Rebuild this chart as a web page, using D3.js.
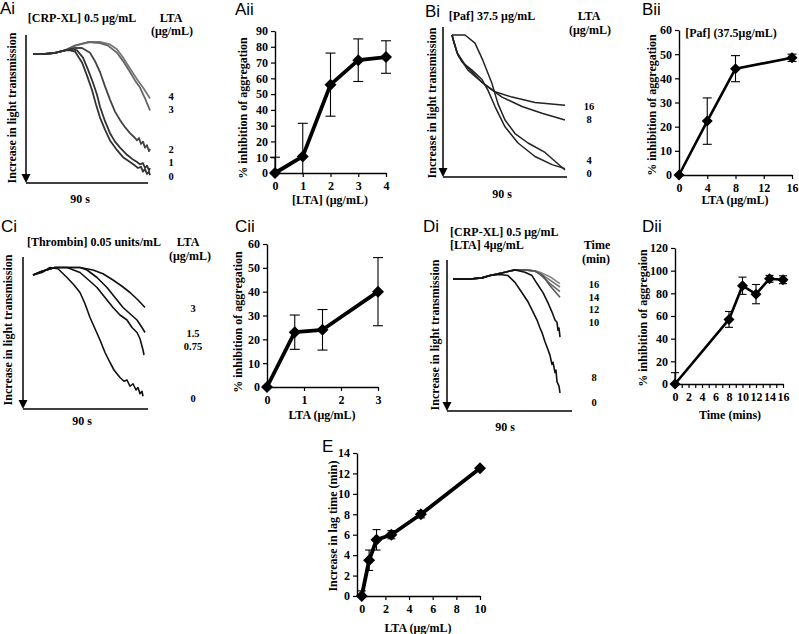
<!DOCTYPE html>
<html><head><meta charset="utf-8">
<script src="https://cdn.jsdelivr.net/npm/d3@7"></script>
<style>body{margin:0;background:#fff} svg{display:block}</style>
</head><body><svg id="c" width="799" height="634"></svg>
<script>
// ---------------- DATA ----------------
// Ai: aggregation traces, [time (s), transmission change (a.u.)], per LTA dose
const aiDoseLabels = ["4", "3", "2", "1", "0"];
const aiLta4 = [[0,0],[12,0],[22,-1],[32,-3],[42,-7],[57,-10],[67,-10],[77,-8],[84,-4],[90,3],[97,12],[104,21],[110,28],[117,37]];
const aiLta3 = [[0,0],[12,0],[22,-1],[32,-3],[42,-7],[55,-10],[67,-9],[75,-7],[84,-1],[91,7],[97,15],[102,22],[107,28],[112,37],[117,47]];
const aiLta2 = [[0,0],[12,0],[22,-1],[32,-3],[42,-5],[49,-5],[57,-1],[62,6],[67,15],[72,27],[77,38],[82,48],[87,55],[92,61],[97,66],[102,70],[104,72],[106,70],[108,75],[110,73],[112,78],[114,76],[116,81],[117,79]];
const aiLta1 = [[0,0],[12,0],[22,-1],[32,-3],[39,-4],[44,-3],[50,3],[55,13],[60,24],[64,34],[67,44],[72,56],[77,66],[82,73],[87,78],[94,84],[100,88],[104,90],[107,92],[110,91],[112,95],[114,93],[116,97],[117,95]];
const aiLta0 = [[0,0],[12,0],[22,-1],[32,-3],[37,-3],[42,-2],[49,7],[54,18],[59,30],[63,42],[67,53],[72,63],[77,72],[83,79],[90,86],[97,90],[102,93],[105,95],[108,94],[110,98],[112,96],[114,100],[116,98],[117,101]];

// Bi
const biDoseLabels = ["16", "8", "4", "0"];
const biLta16 = [[0,0],[2,5],[5,13],[13,22],[30,35],[43,42],[60,46],[83,50],[113,52]];
const biLta8 = [[0,0],[1,3],[6,15],[16,26],[33,37],[50,46],[70,53],[90,58],[113,63]];
const biLta4 = [[0,0],[2,6],[5,13],[10,20],[20,26],[30,33],[36,41],[43,53],[53,68],[66,80],[83,90],[100,96],[113,99]];
const biLta0 = [[0,0],[13,0],[23,6],[31,19],[40,36],[46,51],[53,63],[63,73],[76,80],[93,87],[113,100]];

// Ci
const ciDoseLabels = ["3", "1.5", "0.75", "0"];
const ciLta3 = [[0,0],[9,-3],[22,-6],[34,-6],[47,-6],[60,-4],[70,-1],[80,4],[89,9],[97,14],[105,20],[112,26]];
const ciLta15 = [[0,0],[9,-3],[22,-6],[34,-6],[47,-6],[54,-4],[64,2],[74,10],[82,18],[90,26],[97,31],[104,36],[109,42],[112,46]];
const ciLta075 = [[0,0],[9,-3],[22,-6],[34,-6],[47,-2],[57,5],[64,10],[72,18],[80,26],[87,32],[94,36],[99,42],[104,46],[107,51],[108,54],[110,60],[111,64]];
const ciLta0 = [[0,0],[9,-2],[17,-6],[25,-5],[34,2],[41,8],[47,14],[52,23],[57,34],[62,43],[67,52],[72,62],[77,70],[81,76],[84,79],[87,82],[91,85],[94,84],[97,89],[100,87],[103,92],[105,90],[107,95],[109,93],[110,97]];

// Di
const diTimeLabels = ["16", "14", "12", "10", "8", "0"];
const diTime16 = [[0,0],[17,0],[29,-1],[37,-3],[52,-6],[62,-8],[72,-8],[82,-7],[87,-6],[97,-2],[107,4]];
const diTime14 = [[0,0],[17,0],[29,-1],[37,-3],[52,-6],[62,-8],[72,-8],[82,-7],[87,-5],[97,1],[107,7]];
const diTime12 = [[0,0],[17,0],[29,-1],[37,-3],[52,-6],[62,-8],[72,-8],[82,-7],[87,-4],[97,4],[107,11]];
const diTime10 = [[0,0],[17,0],[29,-1],[37,-3],[52,-6],[62,-8],[72,-8],[82,-7],[90,-3],[97,6],[107,16]];
const diTime8 = [[0,0],[17,0],[29,-1],[37,-3],[52,-6],[62,-8],[72,-6],[79,-3],[84,4],[90,12],[95,21],[99,29],[102,36],[104,38],[105,45],[106,43],[107,51]];
const diTime0 = [[0,0],[17,0],[29,-1],[37,-3],[47,-4],[55,-3],[62,3],[69,12],[75,20],[79,27],[84,36],[87,43],[89,47],[92,55],[95,62],[97,67],[99,75],[100,73],[102,82],[103,80],[104,90],[106,94],[107,100]];

// Aii
const aiiLta = [0, 1, 2, 3, 4];
const aiiInhib = [0, 10.5, 56, 71.5, 73.5];
const aiiErr = [10, 21, 20, 13.5, 10.3];
const aiiYTicks = [0,10,20,30,40,50,60,70,80,90];
const aiiXTicks = [0,1,2,3,4];

// Bii
const biiLta = [0, 4, 8, 16];
const biiInhib = [0, 22.3, 44, 48.5];
const biiErr = [0, 9.6, 5.4, 1.5];
const biiYTicks = [0,10,20,30,40,50,60];
const biiXTicks = [0,4,8,12,16];

// Cii
const ciiLta = [0, 0.75, 1.5, 3];
const ciiInhib = [0, 23, 24, 40];
const ciiErr = [0, 7.2, 8.5, 14.3];
const ciiYTicks = [0,10,20,30,40,50,60];
const ciiXTicks = [0,1,2,3];

// Dii
const diiTime = [0, 8, 10, 12, 14, 16];
const diiInhib = [0, 57, 86.7, 79.3, 92.8, 92];
const diiErr = [10, 7, 7.6, 8.5, 3, 3.5];
const diiYTicks = [0,20,40,60,80,100,120];
const diiXTicks = [0,1,2,3,4,5,6,7,8,9,10,11,12,13,14,15,16];

// E
const eLta = [0, 0.625, 1.25, 2.5, 5, 10];
const eLag = [0, 3.5, 5.5, 6, 8, 12.5];
const eErr = [0.5, 1, 1, 0.4, 0.35, 0];
const eYTicks = [0,2,4,6,8,10,12,14];
const eXTicks = [0,2,4,6,8,10];

// ---------------- DRAWING ----------------
const SERIF = "'Liberation Serif','Times New Roman',serif";
const SANS = "'Liberation Sans',Arial,sans-serif";
const svg = d3.select("#c");
svg.append("rect").attr("width", 799).attr("height", 634).attr("fill", "#fff");

function txt(x, y, s, o = {}) {
  return svg.append("text").attr("x", x).attr("y", y).text(s)
    .attr("font-family", o.sans ? SANS : SERIF)
    .attr("font-weight", o.sans ? "normal" : "bold")
    .attr("font-size", o.size || 12)
    .attr("text-anchor", o.anchor || "middle")
    .attr("fill", "#000");
}
function vtxt(cx, cy, s, size) {
  svg.append("text").attr("transform", `translate(${cx},${cy}) rotate(-90)`)
    .attr("text-anchor", "middle").attr("dy", "0.35em")
    .attr("font-family", SERIF).attr("font-weight", "bold").attr("font-size", size || 12)
    .attr("fill", "#000").text(s);
}

function tracePanel(p) {
  const x = d3.scaleLinear().domain(p.xDomain).range(p.xRange);
  const y = d3.scaleLinear().domain(p.yDomain).range(p.yRange);
  const g = svg.append("g");
  g.append("line").attr("x1", p.axisX).attr("x2", p.axisX).attr("y1", p.axisTop).attr("y2", p.axisBottom - 6)
    .attr("stroke", "#000").attr("stroke-width", 1.5);
  g.append("path").attr("d", `M${p.axisX - 4.5},${p.axisBottom - 9}L${p.axisX + 4.5},${p.axisBottom - 9}L${p.axisX},${p.axisBottom}Z`).attr("fill", "#000");
  g.append("line").attr("x1", p.axisX).attr("x2", p.axisRight).attr("y1", p.axisBottom).attr("y2", p.axisBottom)
    .attr("stroke", "#000").attr("stroke-width", 1.5);
  const line = d3.line().x(d => x(d[0])).y(d => y(d[1]));
  p.traces.forEach((tr, i) => {
    g.append("path").attr("d", line(tr)).attr("fill", "none")
      .attr("stroke", p.colors[i]).attr("stroke-width", p.width).attr("stroke-linejoin", "round");
  });
  p.labels.forEach((l, i) => txt(p.labelX, p.labelY[i], l, { size: 10.5 }));
  vtxt(p.yLabelX, p.yLabelY, "Increase in light transmission");
  txt(p.scaleX, p.scaleY, "90 s");
}

function lineChart(p) {
  const x = d3.scaleLinear().domain(p.xDomain).range(p.xRange);
  const y = d3.scaleLinear().domain(p.yDomain).range(p.yRange);
  const g = svg.append("g");
  const ax = x(p.xDomain[0]);
  const ya = g.append("g").attr("transform", `translate(${ax},0)`)
    .call(d3.axisLeft(y).tickValues(p.yTicks).tickSize(4).tickSizeOuter(0).tickPadding(3));
  const xa = g.append("g").attr("transform", `translate(0,${y(p.yDomain[0])})`)
    .call(d3.axisBottom(x).tickValues(p.xTicks).tickSize(4).tickSizeOuter(0).tickPadding(4)
      .tickFormat(p.xFormat || (d => d)));
  [ya, xa].forEach(a => {
    a.selectAll("path").attr("stroke", "#000").attr("stroke-width", 1.4);
    a.selectAll("line").attr("stroke", "#000").attr("stroke-width", 1.2);
    a.selectAll("text").attr("font-family", SERIF).attr("font-weight", "bold").attr("font-size", 12).attr("fill", "#000");
  });
  const pts = p.xs.map((v, i) => ({ x: v, y: p.ys[i], e: p.es[i] }));
  const cw = p.cap / 2;
  pts.forEach(d => {
    if (!d.e) return;
    const lo = Math.max(d.y - d.e, p.yDomain[0]);
    const hi = d.y + d.e;
    g.append("line").attr("x1", x(d.x)).attr("x2", x(d.x)).attr("y1", y(lo)).attr("y2", y(hi)).attr("stroke", "#000").attr("stroke-width", 1.1);
    g.append("line").attr("x1", x(d.x) - cw).attr("x2", x(d.x) + cw).attr("y1", y(hi)).attr("y2", y(hi)).attr("stroke", "#000").attr("stroke-width", 1.1);
    if (d.y - d.e > p.yDomain[0]) {
      g.append("line").attr("x1", x(d.x) - cw).attr("x2", x(d.x) + cw).attr("y1", y(lo)).attr("y2", y(lo)).attr("stroke", "#000").attr("stroke-width", 1.1);
    }
  });
  g.append("path").attr("d", d3.line().x(d => x(d.x)).y(d => y(d.y))(pts))
    .attr("fill", "none").attr("stroke", "#000").attr("stroke-width", p.lw).attr("stroke-linejoin", "round");
  const r = p.r;
  g.selectAll(".m").data(pts).enter().append("path")
    .attr("d", `M0,${-r}L${r},0L0,${r}L${-r},0Z`)
    .attr("transform", d => `translate(${x(d.x)},${y(d.y)})`).attr("fill", "#000");
  vtxt(p.yLabelX, p.yLabelY, p.yLabel);
  txt(p.xLabelX, p.xLabelY, p.xLabel);
}

// panel letters
[["Ai",0,14],["Aii",235,15],["Bi",425,17],["Bii",642,15],["Ci",1,232],["Cii",235,232],["Di",423,232],["Dii",642,232],["E",322,452]]
  .forEach(d => txt(d[1], d[2], d[0], { sans: true, size: 17, anchor: "start" }));

// Ai
txt(82, 22, "[CRP-XL] 0.5 μg/mL");
txt(171, 22, "LTA"); txt(172, 35, "(μg/mL)");
tracePanel({
  xDomain: [0, 117], xRange: [33, 150], yDomain: [0, 100], yRange: [54, 174],
  axisX: 26, axisTop: 35, axisBottom: 183, axisRight: 148,
  traces: [aiLta4, aiLta3, aiLta2, aiLta1, aiLta0],
  colors: ["#777", "#666", "#444", "#333", "#333"], width: 1.8,
  labels: aiDoseLabels, labelX: 171, labelY: [100, 113, 153, 166, 180],
  yLabelX: 12, yLabelY: 108, scaleX: 80, scaleY: 203
});

// Bi
txt(492, 20, "[Paf] 37.5 μg/mL");
txt(589, 20, "LTA"); txt(590, 34, "(μg/mL)");
tracePanel({
  xDomain: [0, 113], xRange: [452, 565], yDomain: [0, 100], yRange: [35, 170],
  axisX: 443, axisTop: 27, axisBottom: 177, axisRight: 567,
  traces: [biLta16, biLta8, biLta4, biLta0],
  colors: ["#222", "#222", "#222", "#222"], width: 1.5,
  labels: biDoseLabels, labelX: 589, labelY: [110, 123, 164, 177],
  yLabelX: 432, yLabelY: 103, scaleX: 502, scaleY: 198
});

// Ci
txt(94, 246, "[Thrombin] 0.05 units/mL");
txt(188, 246, "LTA"); txt(190, 260, "(μg/mL)");
tracePanel({
  xDomain: [0, 112], xRange: [33, 145], yDomain: [0, 100], yRange: [275, 400],
  axisX: 23, axisTop: 257, axisBottom: 409, axisRight: 148,
  traces: [ciLta3, ciLta15, ciLta075, ciLta0],
  colors: ["#111", "#111", "#111", "#111"], width: 1.6,
  labels: ciDoseLabels, labelX: 193, labelY: [312, 336.5, 349.5, 402],
  yLabelX: 8, yLabelY: 330, scaleX: 82, scaleY: 425
});

// Di
txt(450, 236, "[CRP-XL] 0.5 μg/mL", { anchor: "start" });
txt(450, 249, "[LTA] 4μg/mL", { anchor: "start" });
txt(597, 249, "Time"); txt(596, 263, "(min)");
tracePanel({
  xDomain: [0, 107], xRange: [453, 560], yDomain: [0, 100], yRange: [279, 393],
  axisX: 447, axisTop: 260, axisBottom: 411, axisRight: 572,
  traces: [diTime16, diTime14, diTime12, diTime10, diTime8, diTime0],
  colors: ["#888", "#777", "#666", "#555", "#111", "#111"], width: 1.6,
  labels: diTimeLabels, labelX: 594, labelY: [288, 300.5, 313, 325.5, 381, 406],
  yLabelX: 435, yLabelY: 335, scaleX: 505, scaleY: 431
});

// Aii
lineChart({
  xDomain: [0, 4], xRange: [275, 386], yDomain: [0, 90], yRange: [173, 31],
  yTicks: aiiYTicks, xTicks: aiiXTicks, xs: aiiLta, ys: aiiInhib, es: aiiErr,
  cap: 10, lw: 3.8, r: 6,
  yLabel: "% inhibition of aggregation", yLabelX: 243, yLabelY: 108,
  xLabel: "[LTA] (μg/mL)", xLabelX: 330, xLabelY: 204
});

// Bii
txt(731, 37, "[Paf] (37.5μg/mL)");
lineChart({
  xDomain: [0, 16], xRange: [679, 792], yDomain: [0, 60], yRange: [175, 30],
  yTicks: biiYTicks, xTicks: biiXTicks, xs: biiLta, ys: biiInhib, es: biiErr,
  cap: 9, lw: 2.6, r: 5.5,
  yLabel: "% inhibition of aggregation", yLabelX: 652, yLabelY: 105,
  xLabel: "LTA (μg/mL)", xLabelX: 735, xLabelY: 204
});

// Cii
lineChart({
  xDomain: [0, 3], xRange: [267, 378], yDomain: [0, 60], yRange: [387, 244],
  yTicks: ciiYTicks, xTicks: ciiXTicks, xs: ciiLta, ys: ciiInhib, es: ciiErr,
  cap: 10, lw: 3.8, r: 6,
  yLabel: "% inhibition of aggregation", yLabelX: 238, yLabelY: 322,
  xLabel: "LTA (μg/mL)", xLabelX: 322, xLabelY: 419
});

// Dii
lineChart({
  xDomain: [0, 16], xRange: [675, 783], yDomain: [0, 120], yRange: [384, 248],
  yTicks: diiYTicks, xTicks: diiXTicks, xs: diiTime, ys: diiInhib, es: diiErr,
  xFormat: d => (d % 2 === 0 ? d : ""),
  cap: 8, lw: 2.6, r: 5.5,
  yLabel: "% inhibition of aggregaion", yLabelX: 643, yLabelY: 318,
  xLabel: "Time (mins)", xLabelX: 730, xLabelY: 419
});

// E
lineChart({
  xDomain: [-0.4, 10], xRange: [357, 480], yDomain: [0, 14], yRange: [596, 453],
  yTicks: eYTicks, xTicks: eXTicks, xs: eLta, ys: eLag, es: eErr,
  cap: 8, lw: 3.8, r: 6,
  yLabel: "Increase in lag time (min)", yLabelX: 333, yLabelY: 526,
  xLabel: "LTA (μg/mL)", xLabelX: 418, xLabelY: 632
});
</script></body></html>
